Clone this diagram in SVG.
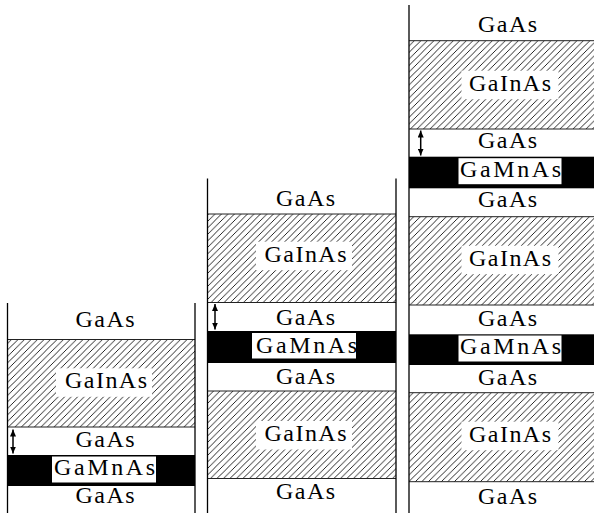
<svg xmlns="http://www.w3.org/2000/svg" width="594" height="513" viewBox="0 0 594 513">
<defs>
<pattern id="hatch" patternUnits="userSpaceOnUse" width="6.5" height="6.5">
<path d="M0,6.5 L6.5,0 M-1,1 L1,-1 M5.5,7.5 L7.5,5.5" stroke="#111" stroke-width="0.9" fill="none"/>
</pattern>
<marker id="ah" viewBox="0 0 7 6" refX="7" refY="3" markerWidth="7" markerHeight="6" markerUnits="userSpaceOnUse" orient="auto-start-reverse">
<path d="M0,0 L7,3 L0,6 Z" fill="#000"/>
</marker>
</defs>
<style>
text{font-family:"Liberation Serif","Times New Roman",serif;font-size:24px;fill:#000;text-anchor:middle}
.v{stroke:#000;stroke-width:1.3;fill:none}
.h{fill:url(#hatch)}
.b{stroke:#222;stroke-width:1}
.k{fill:#000}
.w{fill:#fff}
.arr{stroke:#000;stroke-width:1.5;fill:none;marker-start:url(#ah);marker-end:url(#ah)}
</style>
<rect width="594" height="513" fill="#fff"/>

<!-- Column 1 -->
<g id="col1">
<g id="c1-gaas-top"><text x="105" y="326.7" textLength="59">GaAs</text></g>
<g id="c1-gainas">
<rect class="h" x="7.5" y="339.5" width="187.5" height="87.5"/>
<line class="b" x1="7.5" y1="339.5" x2="195" y2="339.5"/>
<line class="b" x1="7.5" y1="427" x2="195" y2="427"/>
<rect class="w" x="56" y="368.3" width="96" height="28.5"/>
<text x="106" y="388.3" textLength="82">GaInAs</text>
</g>
<g id="c1-gaas-spacer"><text x="105" y="446.7" textLength="59">GaAs</text></g>
<g id="c1-gamnas">
<rect class="k" x="7.5" y="455" width="187.5" height="31"/>
<rect class="w" x="52" y="456.5" width="104" height="26"/>
<text x="104.5" y="475" textLength="101">GaMnAs</text>
</g>
<g id="c1-gaas-bottom"><text x="105" y="503.3" textLength="59">GaAs</text></g>
<line class="v" x1="7.5" y1="303" x2="7.5" y2="513"/>
<line class="v" x1="195" y1="303" x2="195" y2="513"/>
</g>

<!-- Column 2 -->
<g id="col2">
<g id="c2-gaas-top"><text x="305.5" y="205.7" textLength="59">GaAs</text></g>
<g id="c2-gainas-1">
<rect class="h" x="207.5" y="214" width="188.5" height="88.5"/>
<line class="b" x1="207.5" y1="214" x2="396" y2="214"/>
<line class="b" x1="207.5" y1="302.5" x2="396" y2="302.5"/>
<rect class="w" x="256" y="241.7" width="96" height="28.5"/>
<text x="305.5" y="261.7" textLength="82">GaInAs</text>
</g>
<g id="c2-gaas-spacer"><text x="305.5" y="325" textLength="59">GaAs</text></g>
<g id="c2-gamnas">
<rect class="k" x="207.5" y="331" width="188.5" height="32"/>
<rect class="w" x="252" y="333" width="104" height="25.5"/>
<text x="306.5" y="353.3" textLength="101">GaMnAs</text>
</g>
<g id="c2-gaas-mid"><text x="305.5" y="384" textLength="59">GaAs</text></g>
<g id="c2-gainas-2">
<rect class="h" x="207.5" y="391" width="188.5" height="87.5"/>
<line class="b" x1="207.5" y1="391" x2="396" y2="391"/>
<line class="b" x1="207.5" y1="478.5" x2="396" y2="478.5"/>
<rect class="w" x="256" y="421" width="96" height="28.5"/>
<text x="305.5" y="441" textLength="82">GaInAs</text>
</g>
<g id="c2-gaas-bottom"><text x="305.5" y="499.3" textLength="59">GaAs</text></g>
<line class="v" x1="207.5" y1="178.5" x2="207.5" y2="513"/>
<line class="v" x1="396" y1="178.5" x2="396" y2="513"/>
</g>

<!-- Column 3 -->
<g id="col3">
<g id="c3-gaas-top"><text x="507.5" y="31.7" textLength="59">GaAs</text></g>
<g id="c3-gainas-1">
<rect class="h" x="409" y="40.7" width="185" height="88.3"/>
<line class="b" x1="409" y1="40.7" x2="594" y2="40.7"/>
<line class="b" x1="409" y1="129" x2="594" y2="129"/>
<rect class="w" x="461.5" y="70.7" width="97" height="28.5"/>
<text x="510" y="90.7" textLength="82">GaInAs</text>
</g>
<g id="c3-gaas-spacer-1"><text x="507.5" y="148.3" textLength="59">GaAs</text></g>
<g id="c3-gamnas-1">
<rect class="k" x="409" y="156.7" width="185" height="31.6"/>
<rect class="w" x="458.5" y="158.2" width="103" height="26"/>
<text x="510.5" y="176.7" textLength="101">GaMnAs</text>
</g>
<g id="c3-gaas-2"><text x="507.5" y="206.7" textLength="59">GaAs</text></g>
<g id="c3-gainas-2">
<rect class="h" x="409" y="216.7" width="185" height="88.3"/>
<line class="b" x1="409" y1="216.7" x2="594" y2="216.7"/>
<line class="b" x1="409" y1="305" x2="594" y2="305"/>
<rect class="w" x="461.5" y="245.7" width="97" height="28.5"/>
<text x="510" y="265.7" textLength="82">GaInAs</text>
</g>
<g id="c3-gaas-spacer-2"><text x="507.5" y="326" textLength="59">GaAs</text></g>
<g id="c3-gamnas-2">
<rect class="k" x="409" y="334.3" width="185" height="30.7"/>
<rect class="w" x="458.5" y="335.5" width="103" height="26"/>
<text x="510.5" y="354" textLength="101">GaMnAs</text>
</g>
<g id="c3-gaas-3"><text x="507.5" y="385" textLength="59">GaAs</text></g>
<g id="c3-gainas-3">
<rect class="h" x="409" y="392.7" width="185" height="89"/>
<line class="b" x1="409" y1="392.7" x2="594" y2="392.7"/>
<line class="b" x1="409" y1="481.7" x2="594" y2="481.7"/>
<rect class="w" x="461.5" y="421.7" width="97" height="28.5"/>
<text x="510" y="441.7" textLength="82">GaInAs</text>
</g>
<g id="c3-gaas-bottom"><text x="507.5" y="504.3" textLength="59">GaAs</text></g>
<line class="v" x1="409" y1="5" x2="409" y2="513"/>
</g>

<!-- Connectors: spacer-thickness arrows -->
<g id="connectors">
<line class="arr" x1="13" y1="429.5" x2="13" y2="453.5"/>
<line class="arr" x1="215" y1="304" x2="215" y2="329.5"/>
<line class="arr" x1="420.7" y1="130.5" x2="420.7" y2="155.5"/>
</g>
</svg>
